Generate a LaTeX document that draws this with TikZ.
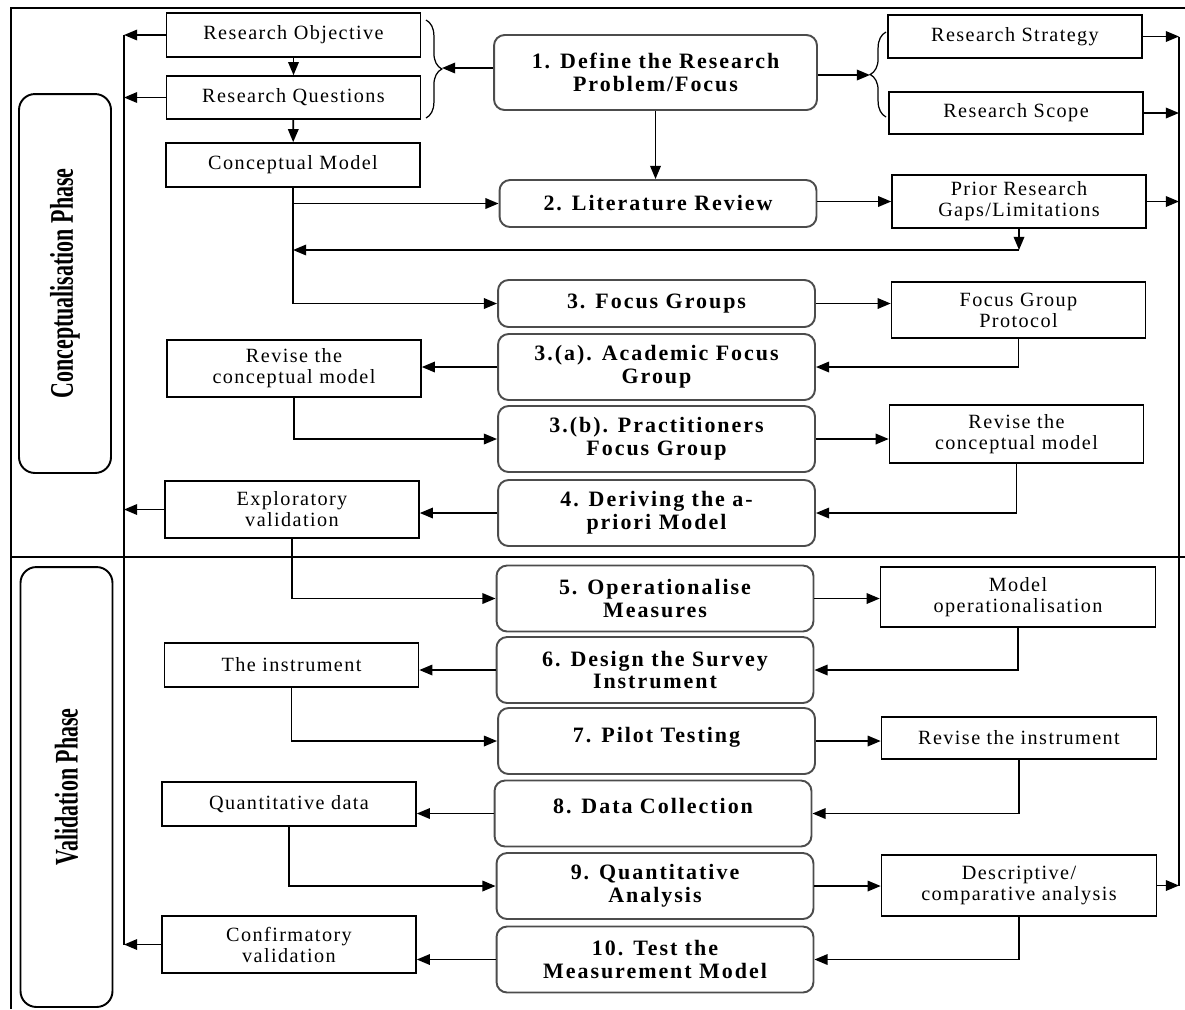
\documentclass[tikz,border=0pt]{standalone}
\usepackage{graphicx}
\usepackage{fontspec}
\setmainfont{Liberation Serif}
\newfontfamily\boxfont{Liberation Serif}[LetterSpace=7]
\newfontfamily\stepfont{Liberation Serif}[LetterSpace=9]
\usepackage{tikz}
\usetikzlibrary{arrows.meta,decorations.pathreplacing}
\tikzset{>=Stealth}
\tikzset{
    plainbox/.style={draw, line width=0.9pt, align=center, inner sep=2pt,
        minimum height=0.88cm, font=\boxfont\fontsize{11.5}{12}\selectfont},
    leftbox/.style={plainbox, minimum width=5.08cm},
    sidebox/.style={plainbox, minimum width=5.08cm},
    widebox/.style={plainbox, minimum width=5.5cm},
    stepbox/.style={draw=black!70, line width=1.1pt, rounded corners=6pt, align=center,
        inner sep=2pt, minimum width=6.34cm, minimum height=1.32cm,
        font=\stepfont\bfseries\fontsize{12.5}{13}\selectfont},
    phasebox/.style={draw, line width=1.1pt, rounded corners=9pt, rotate=90,
        minimum height=1.84cm, font=\bfseries\fontsize{12.5}{14}\selectfont},
    link/.style={-{Triangle[length=7.5pt,width=6pt]}, line width=1pt},
    curly/.style={decorate, decoration={brace, amplitude=9pt}, line width=0.7pt},
}
\begin{document}
\begin{tikzpicture}[x=0.02cm, y=-0.02cm]
    \useasboundingbox (0,0) rectangle (1185,1009);
    % frame and phases
    \draw[line width=1.1pt] (1185,8) -- (11,8) -- (11,1009);
    \draw[line width=1.6pt] (11,557) -- (1185,557);
    \node[phasebox, minimum width=7.58cm] at (65,283.5) (concphase) {\scalebox{1}[1.5]{Conceptualisation Phase}};
    \node[phasebox, minimum width=8.8cm] at (66.5,787) (validphase) {\scalebox{1}[1.5]{Validation Phase}};
    % left column
    \node[leftbox] at (293.5,35) (objective) {Research Objective};
    \node[leftbox, minimum height=0.86cm] at (293.5,97.5) (questions) {Research Questions};
    \node[leftbox] at (293,165) (cmodel) {Conceptual Model};
    \node[leftbox, minimum height=1.14cm] at (294,368.5) (reviseleft) {Revise the\\conceptual model};
    \node[leftbox, minimum height=1.14cm] at (292,509.5) (explor) {Exploratory\\validation};
    \node[leftbox] at (291.5,665) (instr) {The instrument};
    \node[leftbox] at (289,804) (quant) {Quantitative data};
    \node[leftbox, minimum height=1.14cm] at (289,944.5) (confirm) {Confirmatory\\validation};
    % steps
    \node[stepbox, minimum width=6.46cm, minimum height=1.5cm] at (655.5,72.5) (s1) {1. Define the Research\\Problem/Focus};
    \node[stepbox, minimum height=0.94cm] at (658,203.5) (s2) {2. Literature Review};
    \node[stepbox, minimum height=0.94cm] at (656.5,303.5) (s3) {3. Focus Groups};
    \node[stepbox] at (656.5,367) (s3a) {3.(a). Academic Focus\\Group};
    \node[stepbox] at (656.5,439) (s3b) {3.(b). Practitioners\\Focus Group};
    \node[stepbox] at (656.5,513) (s4) {4. Deriving the a-\\priori Model};
    \node[stepbox] at (655,598.5) (s5) {5. Operationalise\\Measures};
    \node[stepbox] at (655,670) (s6) {6. Design the Survey\\Instrument};
    \node[stepbox, text depth=6.6pt] at (656.5,741) (s7) {7. Pilot Testing};
    \node[stepbox, text depth=8.5pt] at (653,813.5) (s8) {8. Data Collection};
    \node[stepbox] at (655,886) (s9) {9. Quantitative\\Analysis};
    \node[stepbox] at (655,959.5) (s10) {10. Test the\\Measurement Model};
    % right column
    \node[sidebox, minimum height=0.86cm] at (1015,36.5) (strategy) {Research Strategy};
    \node[sidebox, minimum height=0.84cm] at (1016,113) (scope) {Research Scope};
    \node[sidebox, minimum height=1.06cm] at (1019,201.5) (prior) {Prior Research\\Gaps/Limitations};
    \node[sidebox, minimum height=1.12cm] at (1018.5,310) (protocol) {Focus Group\\Protocol};
    \node[sidebox, minimum height=1.16cm] at (1016.5,434) (reviseright) {Revise the\\conceptual model};
    \node[widebox, minimum height=1.2cm] at (1018,597) (modelop) {Model\\operationalisation};
    \node[widebox, minimum height=0.84cm] at (1019,738) (reviseinstr) {Revise the instrument};
    \node[widebox, minimum height=1.22cm] at (1019,885.5) (descr) {Descriptive/\\comparative analysis};
    % braces and collector lines
    \draw[curly] (426,20) -- (426,118);
    \draw[curly] (886,117) -- (886,32);
    \coordinate (lbrace) at (442,68);
    \coordinate (rbrace) at (870,75);
    \coordinate (ltop) at (124,35);
    \coordinate (lbot) at (124,944.5);
    \coordinate (rtop) at (1179,36.5);
    \coordinate (rbot) at (1179,885.5);
    \coordinate (gap) at (1021,250);
    \draw[line width=1pt] (ltop) -- (lbot);
    \draw[line width=1.1pt] (rtop) -- (rbot);
    % connectors
    \path[every edge/.style={draw, link}]
    (objective) edge (questions)
    (questions) edge (cmodel)
    (objective.west) edge (objective.west -| ltop)
    (questions.west) edge (questions.west -| ltop)
    (explor.west) edge (explor.west -| ltop)
    (confirm.west) edge (confirm.west -| ltop)
    (s1.west |- lbrace) edge (lbrace)
    (s1.east |- rbrace) edge (rbrace)
    (s1.south) edge (s1.south |- s2.north)
    (strategy.east) edge (strategy.east -| rtop)
    (scope.east) edge (scope.east -| rtop)
    (prior.east) edge (prior.east -| rtop)
    (descr.east) edge (descr.east -| rtop)
    (s2.east |- prior.west) edge (prior.west)
    (s3.east) edge (s3.east -| protocol.west)
    (s3a.west) edge (s3a.west -| reviseleft.east)
    (s3b.east) edge (s3b.east -| reviseright.west)
    (s4.west) edge (s4.west -| explor.east)
    (s5.east) edge (s5.east -| modelop.west)
    (s6.west) edge (s6.west -| instr.east)
    (s7.east) edge (s7.east -| reviseinstr.west)
    (s8.west) edge (s8.west -| quant.east)
    (s9.east) edge (s9.east -| descr.west)
    (s10.west) edge (s10.west -| confirm.east)
    (prior.south) edge (prior.south |- gap)
    ;
    \draw[link] (prior.south |- gap) -- (cmodel.south |- gap);
    \draw[link] (cmodel.south |- s2.west) -- (s2.west);
    \draw[link] (cmodel) |- (s3);
    \draw[link] (protocol) |- (s3a);
    \draw[link] (reviseleft) |- (s3b);
    \draw[link] (reviseright) |- (s4);
    \draw[link] (explor) |- (s5);
    \draw[link] (modelop) |- (s6);
    \draw[link] (instr) |- (s7);
    \draw[link] (reviseinstr) |- (s8);
    \draw[link] (quant) |- (s9);
    \draw[link] (descr) |- (s10);
\end{tikzpicture}
\end{document}
